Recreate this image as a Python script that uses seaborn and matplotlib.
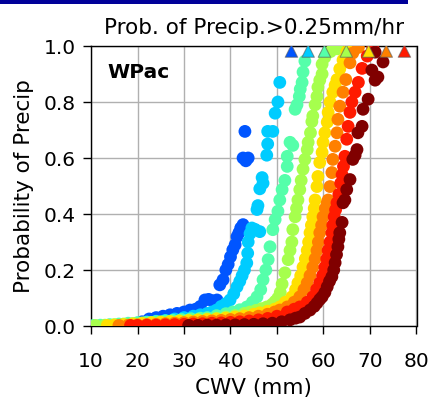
import numpy as np
import pandas as pd
import matplotlib
matplotlib.use("Agg")
import matplotlib.pyplot as plt
import seaborn as sns
from matplotlib.patches import Rectangle

# ---------------- data ----------------
series_names = ["s1", "s2", "s3", "s4", "s5", "s6", "s7", "s8"]
series_colors = ["#0055ff", "#00ccff", "#55ffaa", "#a6ff4d", "#ffe000", "#ff8000", "#ff1a00", "#800000"]

cwv_s1 = [21, 22.5, 24, 25.5, 27, 28.5, 30, 31.3, 32.5, 33.5, 34.5, 35.3, 36.2, 37.1, 37.7, 38.4, 39.0, 39.5,
          40.0, 40.5, 41.0, 41.4, 41.8, 42.2, 42.7, 42.7, 43.3, 43.8, 43.1]
prob_s1 = [0.015, 0.025, 0.03, 0.035, 0.04, 0.045, 0.05, 0.057, 0.06, 0.07, 0.093, 0.095, 0.09, 0.093, 0.147,
           0.165, 0.2, 0.22, 0.247, 0.272, 0.29, 0.319, 0.333, 0.35, 0.362, 0.60, 0.59, 0.60, 0.695]

cwv_s2 = [16, 18, 20, 22, 24, 26, 28, 30, 32, 33.5, 35, 36, 37, 38, 39, 39.9, 40.7, 41.4, 42, 42.5, 43, 43.5,
          43.7, 43.8, 44.2, 44.6, 45.3, 46.3, 45.7, 45.9, 46.3, 46.8, 47.0, 47.8, 48.0, 48.0, 49.1, 49.6, 50.2, 50.6]
prob_s2 = [0.003, 0.006, 0.01, 0.013, 0.017, 0.02, 0.025, 0.03, 0.035, 0.04, 0.045, 0.05, 0.057, 0.07, 0.08,
           0.093, 0.115, 0.14, 0.16, 0.18, 0.2, 0.225, 0.26, 0.30, 0.33, 0.35, 0.345, 0.337, 0.416, 0.43, 0.49,
           0.53, 0.51, 0.61, 0.65, 0.695, 0.695, 0.76, 0.80, 0.87]

cwv_s3 = [10.5, 12, 14, 16, 18, 20, 22, 24, 26, 27.6, 29.5, 31.5, 33.5, 35, 37, 39, 40.5, 42, 43.5, 44.7, 45.7,
          46.5, 47.0, 47.6, 48.1, 48.5, 49.1, 49.6, 50.2, 50.6, 51.1, 51.7, 52.2, 52.2, 52.8, 53.4, 53.9, 54.3,
          54.8, 55.0, 55.4, 55.6, 56.0]
prob_s3 = [0.002, 0.003, 0.005, 0.007, 0.01, 0.012, 0.014, 0.016, 0.018, 0.02, 0.023, 0.026, 0.028, 0.03, 0.037,
           0.044, 0.05, 0.058, 0.068, 0.085, 0.104, 0.13, 0.165, 0.2, 0.237, 0.283, 0.344, 0.38, 0.41, 0.45,
           0.487, 0.52, 0.57, 0.606, 0.656, 0.645, 0.774, 0.79, 0.82, 0.846, 0.87, 0.907, 0.946]

cwv_s4 = [11, 13, 15, 17, 19, 21, 23, 25, 27, 29, 31, 33, 35, 37, 39, 41, 43, 44.2, 45.5, 46.7, 47.8, 49.0,
          49.6, 50.2, 50.7, 51.1, 51.7, 52.4, 52.8, 53.2, 53.4, 53.9, 54.2, 54.5, 54.9, 55.2, 55.6, 56.0, 56.5,
          56.7, 57.2, 57.5, 57.7, 58.2, 58.6, 58.8, 59.2, 59.7, 59.7, 60.3, 61.5, 63.0]
prob_s4 = [0.002, 0.003, 0.005, 0.007, 0.009, 0.011, 0.013, 0.015, 0.017, 0.019, 0.021, 0.023, 0.025, 0.028,
           0.032, 0.037, 0.045, 0.05, 0.056, 0.062, 0.068, 0.078, 0.088, 0.1, 0.12, 0.15, 0.19, 0.237, 0.27,
           0.30, 0.344, 0.39, 0.42, 0.45, 0.487, 0.52, 0.56, 0.595, 0.63, 0.656, 0.69, 0.73, 0.75, 0.79, 0.82,
           0.853, 0.878, 0.9, 0.935, 0.96, 0.98, 0.99]

cwv_s5 = [13.5, 15, 17, 19, 21, 23, 25, 27, 29, 31, 33, 35, 37, 39, 41, 43, 45, 46.3, 48, 49.5, 50.6, 51.8,
          53.2, 54.0, 54.5, 55.1, 55.6, 56.1, 56.5, 56.8, 57.1, 57.4, 57.7, 58.0, 58.2, 58.6, 58.8, 59.2, 59.7,
          59.9, 60.3, 60.8, 61.0, 61.4, 62.0, 62.5, 62.9, 63.5, 64.2, 65.0, 66.0]
prob_s5 = [0.002, 0.003, 0.005, 0.007, 0.009, 0.011, 0.013, 0.015, 0.017, 0.019, 0.021, 0.023, 0.025, 0.028,
           0.032, 0.036, 0.042, 0.047, 0.053, 0.06, 0.068, 0.085, 0.104, 0.13, 0.154, 0.18, 0.21, 0.24, 0.27,
           0.30, 0.333, 0.36, 0.39, 0.42, 0.45, 0.498, 0.534, 0.584, 0.62, 0.656, 0.69, 0.728, 0.763, 0.8,
           0.835, 0.86, 0.88, 0.918, 0.95, 0.98, 0.995]

cwv_s6 = [16, 18, 20, 22, 24, 26, 28, 30, 32, 34, 36, 38, 40, 42, 44, 46, 48, 49.5, 50.6, 52.2, 53.7, 54.9,
          55.8, 56.5, 57.1, 57.7, 58.2, 58.6, 58.9, 59.2, 59.6, 59.9, 60.4, 60.8, 61.0, 61.4, 61.8, 62.0, 62.5,
          62.9, 63.1, 63.5, 64.2, 64.8, 65.7, 66.3, 67.5]
prob_s6 = [0.002, 0.003, 0.004, 0.005, 0.006, 0.008, 0.01, 0.012, 0.014, 0.016, 0.018, 0.02, 0.023, 0.026,
           0.03, 0.035, 0.042, 0.05, 0.057, 0.068, 0.085, 0.104, 0.13, 0.154, 0.18, 0.21, 0.24, 0.27, 0.30,
           0.333, 0.36, 0.39, 0.42, 0.44, 0.45, 0.498, 0.548, 0.595, 0.642, 0.69, 0.738, 0.785, 0.835, 0.88,
           0.94, 0.975, 0.995]

cwv_s7 = [18.5, 20, 22, 24, 26, 28, 30, 32, 34, 36, 38, 40, 42, 44, 46, 48, 50, 52.2, 53.7, 54.9, 56.5, 57.7,
          58.5, 59.2, 59.8, 60.3, 60.7, 61.0, 61.4, 61.8, 62.0, 62.3, 62.6, 62.9, 63.3, 63.7, 64.0, 64.3, 64.6,
          65.0, 65.3, 65.7, 66.1, 66.8, 67.5, 68.3, 69.4, 70.6]
prob_s7 = [0.002, 0.002, 0.003, 0.003, 0.004, 0.005, 0.006, 0.007, 0.008, 0.01, 0.011, 0.013, 0.015, 0.018,
           0.022, 0.027, 0.035, 0.05, 0.06, 0.068, 0.085, 0.104, 0.13, 0.154, 0.18, 0.21, 0.24, 0.27, 0.30,
           0.333, 0.36, 0.39, 0.415, 0.44, 0.47, 0.51, 0.54, 0.57, 0.606, 0.667, 0.713, 0.763, 0.8, 0.835,
           0.87, 0.92, 0.964, 0.995]

cwv_s8 = [31, 33, 35, 37, 39, 41, 43, 45, 47, 49, 51, 52.8, 54.0, 54.9, 56.0, 57.1, 58.0, 58.6, 59.2, 59.7,
          60.3, 60.8, 61.3, 61.8, 62.2, 62.5, 62.8, 63.1, 63.3, 63.5, 64.0, 64.2, 64.6, 65.0, 65.7, 66.3, 66.8,
          67.2, 67.4, 68.3, 68.5, 69.6, 70.4, 71.1, 71.7, 71.1, 72.8]
prob_s8 = [0.002, 0.002, 0.003, 0.003, 0.004, 0.004, 0.005, 0.006, 0.008, 0.01, 0.015, 0.022, 0.028, 0.032,
           0.045, 0.057, 0.07, 0.082, 0.095, 0.104, 0.12, 0.14, 0.16, 0.176, 0.2, 0.226, 0.255, 0.283, 0.31,
           0.333, 0.37, 0.44, 0.45, 0.487, 0.523, 0.595, 0.61, 0.63, 0.69, 0.713, 0.774, 0.81, 0.914, 0.878,
           0.889, 0.978, 0.943]

# triangles at the top: largest CWV bin with samples, per series (last series off-scale)
tri_names = ["s1", "s2", "s3", "s4", "s5", "s6", "s7"]
tri_cwv = [53.1, 56.7, 60.2, 64.9, 69.7, 73.5, 77.4]
tri_prob = [0.982, 0.982, 0.982, 0.982, 0.982, 0.982, 0.982]

title_text = "Prob. of Precip.>0.25mm/hr"
region_text = "WPac"
x_label = "CWV (mm)"
y_label = "Probability of Precip"
x_ticks = [10, 20, 30, 40, 50, 60, 70, 80]
y_ticks = [0.0, 0.2, 0.4, 0.6, 0.8, 1.0]

# ---------------- build tables ----------------
all_cwv = [cwv_s1, cwv_s2, cwv_s3, cwv_s4, cwv_s5, cwv_s6, cwv_s7, cwv_s8]
all_prob = [prob_s1, prob_s2, prob_s3, prob_s4, prob_s5, prob_s6, prob_s7, prob_s8]
frames = []
for name, xs, ys in zip(series_names, all_cwv, all_prob):
    frames.append(pd.DataFrame({"cwv": xs, "prob": ys, "series": name}))
df = pd.concat(frames, ignore_index=True)
tri_df = pd.DataFrame({"cwv": tri_cwv, "prob": tri_prob, "series": tri_names})
palette = dict(zip(series_names, series_colors))

# ---------------- plot ----------------
sns.set_style("whitegrid")
plt.rcParams["font.family"] = ["DejaVu Sans"]
for k in ["text.color", "axes.labelcolor", "xtick.color", "ytick.color"]:
    plt.rcParams[k] = "black"

fig = plt.figure(figsize=(4.32, 4.05), dpi=100)
ax = fig.add_axes([91 / 432, 1 - 326 / 405, (416.5 - 91) / 432, (326 - 46) / 405])

sns.scatterplot(data=df, x="cwv", y="prob", hue="series", palette=palette, s=85,
                linewidth=0, legend=False, ax=ax, zorder=3)
sns.scatterplot(data=tri_df, x="cwv", y="prob", hue="series", palette=palette, s=80,
                marker="^", edgecolor=(0.35, 0.35, 0.35, 0.6), linewidth=0.8, legend=False,
                ax=ax, zorder=4)

ax.set_xlim(10, 80)
ax.set_ylim(0, 1)
ax.set_xticks(x_ticks)
ax.set_yticks(y_ticks)
ax.set_yticklabels([f"{v:.1f}" for v in y_ticks])
ax.grid(True, color="#b0b0b0", linewidth=1.0)
for sp in ax.spines.values():
    sp.set_color("black")
    sp.set_linewidth(1.0)
ax.tick_params(direction="out", length=6, width=1, color="black", labelsize=14.5,
               bottom=True, left=True)
ax.tick_params(axis="x", pad=13)
ax.tick_params(axis="y", pad=5)
ax.set_xlabel(x_label, fontsize=15.5, labelpad=5)
ax.set_ylabel(y_label, fontsize=15.5, labelpad=7)
ax.set_title(title_text, fontsize=15.5, pad=9)
ax.text(0.05, 0.905, region_text, transform=ax.transAxes, fontsize=14.5, fontweight="bold",
        va="center", ha="left")

fig.patches.append(Rectangle((0, 1 - 4 / 405), 408 / 432, 4 / 405, transform=fig.transFigure,
                             facecolor="#000099", edgecolor="none", zorder=10))

fig.savefig("out.png", dpi=100)
